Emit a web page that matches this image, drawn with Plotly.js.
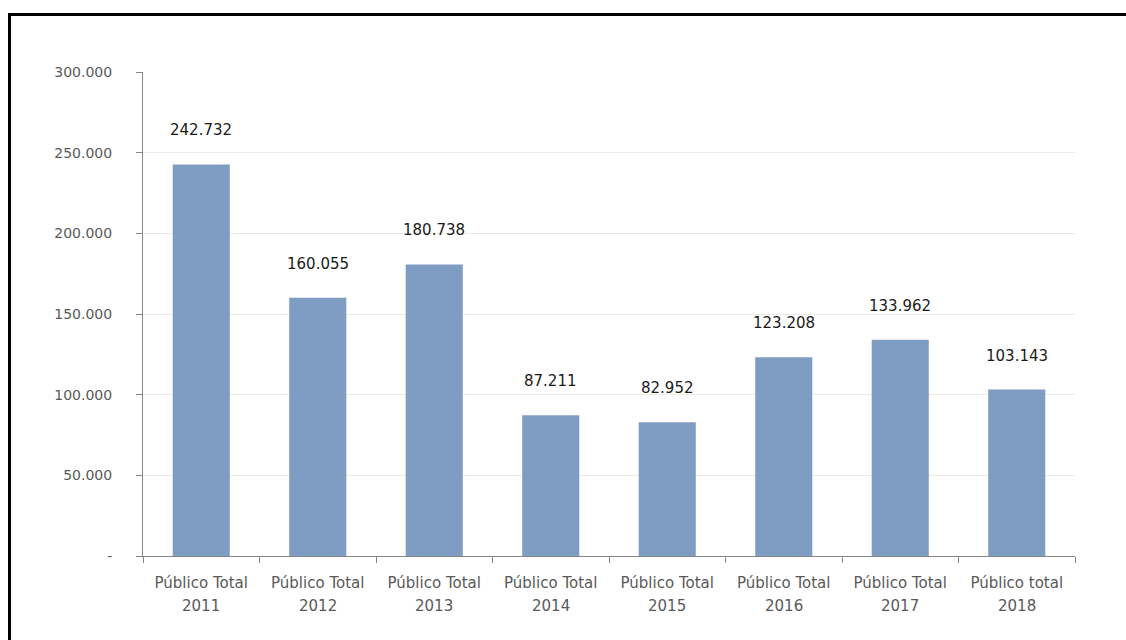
<!DOCTYPE html>
<html>
<head>
<meta charset="utf-8">
<script src="https://cdn.plot.ly/plotly-3.0.1.min.js"></script>
<style>
  html, body { margin: 0; padding: 0; background: #ffffff; }
  #chart { width: 1126px; height: 640px; }
  #frame { position: absolute; left: 8px; top: 13px; width: 1200px; height: 700px;
           border-top: 3px solid #000; border-left: 3px solid #000; pointer-events: none; }
</style>
</head>
<body>
<div id="chart"></div>
<div id="frame"></div>
<script>
const labelTop = ["Público Total", "Público Total", "Público Total", "Público Total",
                  "Público Total", "Público Total", "Público Total", "Público total"];
const labelYear = ["2011", "2012", "2013", "2014", "2015", "2016", "2017", "2018"];
const values = [242732, 160055, 180738, 87211, 82952, 123208, 133962, 103143];
const valueLabels = ["242.732", "160.055", "180.738", "87.211", "82.952", "123.208", "133.962", "103.143"];
const yTickVals = [0, 50000, 100000, 150000, 200000, 250000, 300000];
const yTickText = ["-", "50.000", "100.000", "150.000", "200.000", "250.000", "300.000"];

const categories = labelTop.map((t, i) => t + " " + labelYear[i]);
const FONT = "DejaVu Sans, Verdana, sans-serif";

const trace = {
  type: "bar",
  x: categories,
  y: values,
  marker: { color: "#7f9dc2", line: { width: 0 } },
  width: 0.49,
  hoverinfo: "skip"
};

const annotations = categories.map((c, i) => ({
  x: c, y: values[i], xref: "x", yref: "y",
  text: valueLabels[i], showarrow: false,
  yanchor: "bottom", yshift: 23,
  font: { family: FONT, size: 15, color: "#1a1a1a" }
})).concat(categories.map((c, i) => ({
  x: c, y: 0, xref: "x", yref: "paper",
  text: labelYear[i], showarrow: false,
  yanchor: "middle", yshift: -50,
  font: { family: FONT, size: 15, color: "#595959" }
})));

const layout = {
  width: 1126, height: 640,
  margin: { l: 143, r: 51, t: 72, b: 84 },
  paper_bgcolor: "#ffffff", plot_bgcolor: "#ffffff",
  showlegend: false,
  font: { family: FONT, size: 14, color: "#595959" },
  xaxis: {
    type: "category",
    tickvals: categories, ticktext: labelTop,
    showline: true, linecolor: "#868686", linewidth: 1,
    ticks: "outside", tickson: "boundaries", ticklen: 6, tickcolor: "#868686",
    showgrid: false,
    tickfont: { family: FONT, size: 15, color: "#595959" },
    ticklabelstandoff: 13
  },
  yaxis: {
    range: [0, 300000],
    tickvals: yTickVals, ticktext: yTickText,
    showline: true, linecolor: "#868686", linewidth: 1,
    ticks: "outside", ticklen: 6, tickcolor: "#868686",
    showgrid: true, gridcolor: "#ebebe4", gridwidth: 1,
    zeroline: false,
    tickfont: { family: FONT, size: 14, color: "#595959" },
    ticklabelstandoff: 21
  },
  annotations: annotations
};

Plotly.newPlot("chart", [trace], layout, { displayModeBar: false, staticPlot: true });
</script>
</body>
</html>
